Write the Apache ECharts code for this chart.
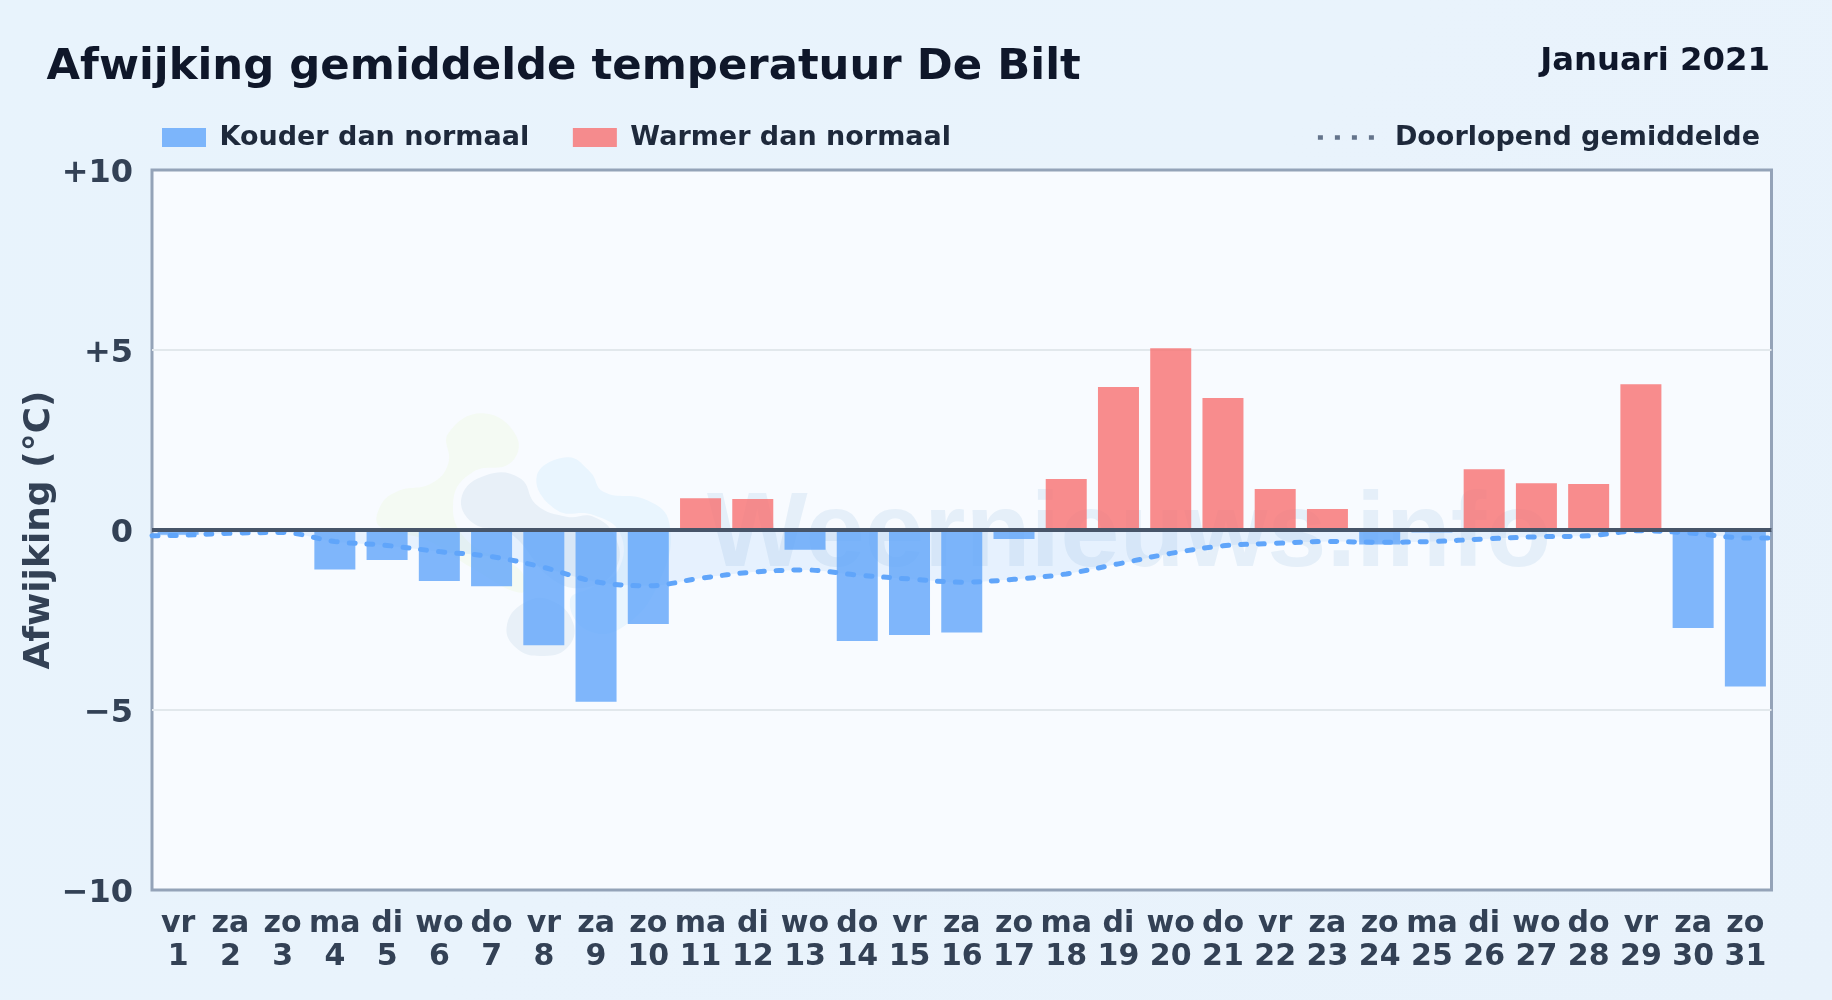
<!DOCTYPE html>
<html>
<head>
<meta charset="utf-8">
<style>
html,body{margin:0;padding:0;width:1832px;height:1000px;overflow:hidden;background:linear-gradient(135deg,#e8f3fc 0%,#e9f3fc 50%,#e8f2fb 100%);}
#c{width:1832px;height:1000px;}
</style>
<script src="https://cdn.jsdelivr.net/npm/echarts@6/dist/echarts.min.js"></script>
</head>
<body>
<div id="c"></div>
<script>
const weekdays = ['vr','za','zo','ma','di','wo','do','vr','za','zo','ma','di','wo','do','vr','za','zo','ma','di','wo','do','vr','za','zo','ma','di','wo','do','vr','za','zo'];
const dayNumbers = [1,2,3,4,5,6,7,8,9,10,11,12,13,14,15,16,17,18,19,20,21,22,23,24,25,26,27,28,29,30,31];
const deviation = [-0.13,-0.02,0,-1.1,-0.83,-1.42,-1.56,-3.2,-4.77,-2.61,0.88,0.86,-0.55,-3.08,-2.92,-2.85,-0.25,1.42,3.97,5.05,3.67,1.14,0.58,-0.4,-0.07,1.69,1.3,1.28,4.05,-2.72,-4.35];
const runningX = [0.5,1,2,3,4,5,6,7,8,9,10,11,12,13,14,15,16,17,18,19,20,21,22,23,24,25,26,27,28,29,30,31,31.5];
const runningMean = [-0.16,-0.15,-0.09,-0.07,-0.32,-0.43,-0.6,-0.74,-1.04,-1.44,-1.55,-1.34,-1.17,-1.11,-1.25,-1.36,-1.45,-1.37,-1.22,-0.94,-0.65,-0.44,-0.37,-0.32,-0.34,-0.32,-0.25,-0.19,-0.16,-0.02,-0.09,-0.22,-0.22];
const yTicks = {'10':'+10','5':'+5','0':'0','-5':'\u22125','-10':'\u221210'};
const titleText = 'Afwijking gemiddelde temperatuur De Bilt';
const periodText = 'Januari 2021';
const yName = 'Afwijking (\u00b0C)';
const coldName = 'Kouder dan normaal';
const warmName = 'Warmer dan normaal';
const meanName = 'Doorlopend gemiddelde';
const watermarkText = 'Weernieuws.info';

const FONT = '"DejaVu Sans"';
const blob = (points, fill) => ({type:'polygon', x:360, y:400, scaleX:1/3, scaleY:1/3, z:1, silent:true,
  shape:{points, smooth:0.45}, style:{fill}});

const chart = echarts.init(document.getElementById('c'), null, {renderer:'canvas', width:1832, height:1000});
chart.setOption({
  animation:false,
  backgroundColor:'transparent',
  title:[
    {text:titleText, left:46.5, top:46, padding:0, textStyle:{fontFamily:FONT, fontWeight:'bold', fontSize:43.35, color:'#0f172a'}},
    {text:periodText, right:62, top:46, padding:0, textStyle:{fontFamily:FONT, fontWeight:'bold', fontSize:32.3, color:'#0f172a'}}
  ],
  legend:[
    {left:162, top:124, padding:0, itemWidth:44, itemHeight:19, itemGap:43.7, selectedMode:false, icon:'rect',
     data:[coldName, warmName],
     textStyle:{fontFamily:FONT, fontWeight:'bold', fontSize:27, color:'#1e293b', padding:[2,0,0,8.5]}},
    {right:72, top:124, padding:0, itemWidth:56, itemHeight:19, selectedMode:false,
     data:[meanName],
     itemStyle:{color:'transparent', opacity:0, borderWidth:0},
     lineStyle:{color:'#64748b', width:4.5, type:[5,12], cap:'butt'},
     textStyle:{fontFamily:FONT, fontWeight:'bold', fontSize:27, color:'#1e293b', padding:[2,0,0,16]}}
  ],
  grid:{left:152, right:60.5, top:170, bottom:110, outerBoundsMode:'none', show:true, backgroundColor:'#f8fbff', borderColor:'#94a3b8', borderWidth:3},
  xAxis:[
    {type:'category', data:dayNumbers, axisLine:{show:false}, axisTick:{show:false}, splitLine:{show:false},
     axisLabel:{interval:0, margin:17, fontFamily:FONT, fontWeight:'bold', fontSize:30, lineHeight:33.5, color:'#334155',
       formatter:(v,i)=>weekdays[i]+'\n'+v}},
    {type:'value', min:0.5, max:31.5, position:'bottom', silent:true,
     axisLine:{show:false}, axisTick:{show:false}, axisLabel:{show:false}, splitLine:{show:false}}
  ],
  yAxis:{type:'value', min:-10, max:10, interval:5,
    name:yName, nameLocation:'middle', nameGap:94, nameRotate:90, nameMoveOverlap:false,
    nameTextStyle:{fontFamily:FONT, fontWeight:'bold', fontSize:36, color:'#334155'},
    axisLine:{show:false}, axisTick:{show:false},
    axisLabel:{margin:19, color:'#334155', formatter:v=>'{t|'+yTicks[String(v)]+'}',
      rich:{t:{fontFamily:FONT, fontWeight:'bold', fontSize:32, color:'#334155', padding:[7,0,0,0]}}},
    splitLine:{showMinLine:false, showMaxLine:false, lineStyle:{color:'#e2e8ec', width:2}}},
  graphic:{elements:[
    blob([[265,100],[370,40],[470,110],[450,190],[340,215],[280,300],[320,420],[480,510],[485,578],[330,500],[200,420],[60,380],[60,320],[110,275],[215,250],[265,190]],'#f4faf3'),
    blob([[530,230],[620,172],[690,215],[730,275],[860,300],[928,370],[900,540],[790,680],[680,690],[630,600],[700,560],[775,510],[780,400],[700,345],[590,330]],'#e9f5fe'),
    blob([[305,290],[380,225],[480,235],[530,315],[620,350],[700,350],[765,410],[770,500],[690,560],[580,540],[450,400],[340,370]],'#e8f0f8'),
    blob([[440,680],[490,610],[570,600],[640,670],[620,745],[540,768],[470,745]],'#e8f0f8'),
    {type:'text', left:707, top:483, z:1, silent:true,
     style:{text:watermarkText, fontFamily:'"Liberation Sans"', fontWeight:'bold', fontSize:106.5, fill:'#e5eff9'}}
  ]},
  series:[
    {name:coldName, type:'bar', xAxisIndex:0, barWidth:'78.5%', barGap:'-100%', z:2,
     itemStyle:{color:'#60a5fa', opacity:0.8},
     data:deviation.map(v=>v<0?v:null)},
    {name:warmName, type:'bar', xAxisIndex:0, barWidth:'78.5%', barGap:'-100%', z:2,
     itemStyle:{color:'#f87171', opacity:0.8},
     data:deviation.map(v=>v>0?v:null)},
    {name:meanName, type:'line', xAxisIndex:1, smooth:0.35, showSymbol:false, symbol:'none', z:3, silent:true,
     lineStyle:{color:'#60a5fa', width:5, type:[6,12], cap:'round'},
     areaStyle:{color:'rgba(96,165,250,0.16)'},
     markLine:{silent:true, symbol:'none', animation:false, label:{show:false},
       lineStyle:{color:'#475569', width:4, type:'solid'}, data:[{yAxis:0}]},
     data:runningX.map((x,i)=>[x,runningMean[i]])}
  ]
});
</script>
</body>
</html>
